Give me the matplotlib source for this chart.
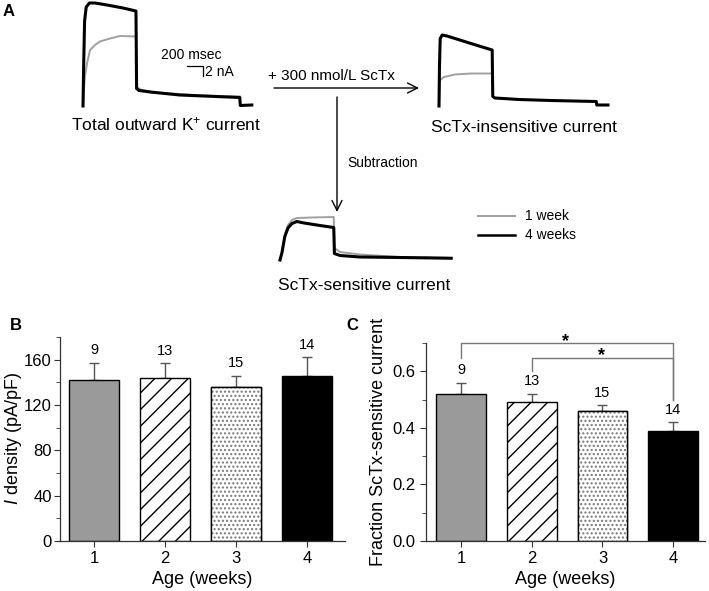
import numpy as np
import matplotlib.pyplot as plt
from matplotlib.ticker import MultipleLocator

plt.rcParams['font.family'] = ['Liberation Sans', 'DejaVu Sans']
plt.rcParams['mathtext.fontset'] = 'custom'
plt.rcParams['mathtext.rm'] = 'Liberation Sans'
plt.rcParams['mathtext.it'] = 'Liberation Sans:italic'

# ---- data ----
weeks = [1, 2, 3, 4]
n_cells = [9, 13, 15, 14]
density_mean = [142, 144, 136, 146]      # pA/pF
density_sem = [15.5, 13, 10, 16]
fraction_mean = [0.52, 0.49, 0.46, 0.39]
fraction_sem = [0.04, 0.03, 0.02, 0.03]

# current traces (time in ms, current in nA)
tot_black_t = [0, 8, 20, 40, 80, 150, 300, 500, 662, 670, 700, 840, 1210, 1960, 1966, 2110]
tot_black_i = [0, 8, 17, 19.8, 20.6, 20.6, 20.2, 19.6, 19.0, 3.5, 3.1, 2.8, 2.2, 1.7, 0.1, 0.2]
tot_gray_t = [0, 10, 25, 50, 88, 150, 212, 338, 462, 662, 670, 720, 900, 1200, 1500, 1960]
tot_gray_i = [0, 3, 5.9, 8.5, 11.2, 12.2, 12.9, 13.5, 14.0, 13.9, 3.8, 3.3, 2.7, 2.4, 2.1, 1.9]

ins_black_t = [0, 6, 15, 40, 100, 300, 500, 665, 672, 700, 1000, 1400, 1966, 1972, 2112]
ins_black_i = [0, 8, 13.5, 14.2, 14.0, 13.0, 12.0, 11.2, 1.9, 1.6, 1.3, 1.1, 0.9, 0.2, 0.2]
ins_gray_t = [0, 6, 15, 60, 200, 400, 665, 672, 700, 1000]
ins_gray_i = [0, 3, 5.2, 5.8, 6.3, 6.5, 6.5, 1.9, 1.6, 1.3]

sen_black_t = [0, 25, 60, 100, 150, 210, 300, 500, 672, 680, 750, 1000, 1500, 2140]
sen_black_i = [0, 1.5, 4.7, 6.4, 7.3, 7.7, 7.4, 6.9, 6.5, 1.3, 0.9, 0.6, 0.5, 0.35]
sen_gray_t = [0, 25, 60, 100, 150, 210, 400, 672, 680, 750, 1000, 1300, 1500, 2140]
sen_gray_i = [0, 1.5, 5.0, 7.0, 8.0, 8.4, 8.5, 8.6, 2.4, 1.6, 1.1, 0.8, 0.6, 0.4]

W, H = 709, 591
fig = plt.figure(figsize=(W / 100, H / 100), dpi=100)

GRAY = '#a0a0a0'


def trace_axes(x0, base):
    # 12.5 ms per pixel, 0.2 nA per pixel; t=0 at x0, I=0 at base (pixels)
    left = x0 - 4
    ax = fig.add_axes([left / W, 1 - (base + 10) / H, 180 / W, 120 / H])
    ax.set_xlim(-50, 2200)
    ax.set_ylim(-2, 22)
    ax.axis('off')
    return ax


ax_tot = trace_axes(83, 106)
ax_tot.plot(tot_gray_t, tot_gray_i, color=GRAY, lw=1.4)
ax_tot.plot(tot_black_t, tot_black_i, color='black', lw=2.2)
ax_tot.plot([1300, 1500, 1500], [8, 8, 6], color='black', lw=0.9)
ax_tot.text(1350, 10.2, '200 msec', fontsize=10, ha='center', va='center')
ax_tot.text(1530, 6.8, '2 nA', fontsize=10, ha='left', va='center')

ax_ins = trace_axes(439, 106)
ax_ins.plot(ins_gray_t, ins_gray_i, color=GRAY, lw=1.4)
ax_ins.plot(ins_black_t, ins_black_i, color='black', lw=2.2)

ax_sen = trace_axes(280, 260)
ax_sen.plot(sen_gray_t, sen_gray_i, color=GRAY, lw=1.4)
ax_sen.plot(sen_black_t, sen_black_i, color='black', lw=2.2)

# overlay in pixel coordinates for labels and arrows
ov = fig.add_axes([0, 0, 1, 1])
ov.set_xlim(0, W)
ov.set_ylim(H, 0)
ov.axis('off')
ov.patch.set_alpha(0)

ov.text(9, 12, 'A', fontsize=12, fontweight='bold', ha='center', va='center')
ov.text(166, 124, 'Total outward K$^{+}$ current', fontsize=12.5, ha='center', va='center')
ov.text(524, 127, 'ScTx-insensitive current', fontsize=12.5, ha='center', va='center')
ov.text(364, 285, 'ScTx-sensitive current', fontsize=12.5, ha='center', va='center')
ov.text(331, 76, '+ 300 nmol/L ScTx', fontsize=11, ha='center', va='center')
ov.text(347, 163, 'Subtraction', fontsize=10, ha='left', va='center')
ov.annotate('', xy=(419, 88), xytext=(274, 88),
            arrowprops=dict(arrowstyle='->', color='black', lw=1.0,
                            mutation_scale=18, shrinkA=0, shrinkB=0))
ov.annotate('', xy=(337, 212), xytext=(337, 97),
            arrowprops=dict(arrowstyle='->', color='black', lw=1.0,
                            mutation_scale=18, shrinkA=0, shrinkB=0))
ov.plot([478, 515], [216, 216], color=GRAY, lw=1.4)
ov.plot([478, 515], [235, 235], color='black', lw=1.8)
ov.text(525, 216, '1 week', fontsize=10, ha='left', va='center')
ov.text(525, 235, '4 weeks', fontsize=10, ha='left', va='center')
ov.text(16, 326, 'B', fontsize=12, fontweight='bold', ha='center', va='center')
ov.text(352, 326, 'C', fontsize=12, fontweight='bold', ha='center', va='center')


def bar_panel(ax, means, sems):
    face = ['#9a9a9a', 'white', 'white', 'black']
    hatch = [None, '//', None, None]
    ax.bar(weeks, means, width=0.7, color=face, hatch=hatch,
           edgecolor='black', linewidth=1.0, zorder=2)
    # dotted bar for week 3
    ax.bar(weeks[2], means[2], width=0.7, color='white', hatch='....',
           edgecolor='#777777', linewidth=0, zorder=2)
    ax.bar(weeks[2], means[2], width=0.7, fill=False,
           edgecolor='black', linewidth=1.0, zorder=3)
    ax.errorbar(weeks, means, yerr=[np.zeros(4), sems], fmt='none',
                ecolor='#555555', elinewidth=1.0, capsize=3.5, capthick=1.0, zorder=1)
    for x, m, s, n in zip(weeks, means, sems, n_cells):
        ax.annotate(str(n), (x, m + s), xytext=(0, 4), textcoords='offset points',
                    ha='center', va='bottom', fontsize=10.5)
    for side in ['top', 'right']:
        ax.spines[side].set_visible(False)
    for side in ['left', 'bottom']:
        ax.spines[side].set_color('#333333')
        ax.spines[side].set_linewidth(0.9)
    ax.set_xticks(weeks)
    ax.tick_params(direction='out', labelsize=12, color='#333333', length=4)
    ax.tick_params(which='minor', direction='out', color='#333333', length=3)
    ax.set_xlabel('Age (weeks)', fontsize=13, labelpad=3)


axB = fig.add_axes([60 / W, 50 / H, 285 / W, 204 / H])
bar_panel(axB, density_mean, density_sem)
axB.set_xlim(0.52, 4.535)
axB.set_ylim(0, 180)
axB.yaxis.set_major_locator(MultipleLocator(40))
axB.yaxis.set_minor_locator(MultipleLocator(20))
axB.tick_params(axis='y', pad=2)
axB.set_ylabel('$I$ density (pA/pF)', fontsize=13, labelpad=0)

axC = fig.add_axes([425.7 / W, 50 / H, 279.3 / W, 198 / H])
bar_panel(axC, fraction_mean, fraction_sem)
axC.set_xlim(0.5, 4.45)
axC.set_ylim(0, 0.7)
axC.yaxis.set_major_locator(MultipleLocator(0.2))
axC.yaxis.set_minor_locator(MultipleLocator(0.1))
axC.yaxis.set_major_formatter(plt.FormatStrFormatter('%.1f'))
axC.set_ylabel('Fraction ScTx-sensitive current', fontsize=13, labelpad=4)

# significance brackets: (left bar, right bar, height, left leg end, right leg end)
brackets = [(1, 4, 0.70, 0.648, 0.50), (2, 4, 0.648, 0.60, 0.50)]
for x1, x2, h, y1, y2 in brackets:
    axC.plot([x1, x1, x2, x2], [y1, h, h, y2], color='#777777', lw=1.0, clip_on=False)
    axC.text((x1 + x2) / 2 - 0.02, h - 0.01, '*', fontsize=13, fontweight='bold',
             ha='center', va='baseline')

fig.savefig('out.png', dpi=100)
